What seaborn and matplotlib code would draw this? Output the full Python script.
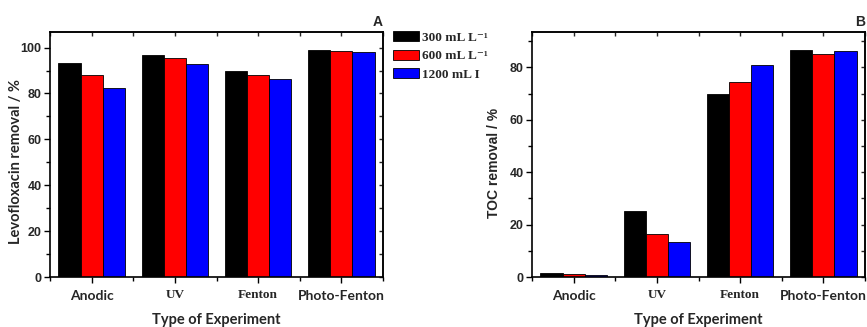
import matplotlib
matplotlib.use("Agg")
import matplotlib.pyplot as plt
import seaborn as sns
import pandas as pd
from matplotlib.ticker import MultipleLocator
from matplotlib.patches import Patch

categories = ["Anodic", "UV", "Fenton", "Photo-Fenton"]
series = ["300 mL L⁻¹", "600 mL L⁻¹", "1200 mL I"]
levo_300 = [93.5, 96.6, 89.9, 98.8]
levo_600 = [88.0, 95.3, 88.2, 98.5]
levo_1200 = [82.6, 92.8, 86.4, 98.2]
toc_300 = [1.4, 25.2, 70.0, 86.6]
toc_600 = [1.2, 16.3, 74.4, 85.1]
toc_1200 = [0.9, 13.2, 81.0, 86.1]
colors = ["#000000", "#ff0000", "#0000ff"]

def long_df(vals):
    rows = []
    for s, v in zip(series, vals):
        for c, x in zip(categories, v):
            rows.append({"cat": c, "series": s, "value": x})
    return pd.DataFrame(rows)

df_levo = long_df([levo_300, levo_600, levo_1200])
df_toc = long_df([toc_300, toc_600, toc_1200])

sns.set_theme(style="white")
plt.rcParams["font.family"] = ["Lato", "DejaVu Sans"]

fig = plt.figure(figsize=(8.67, 3.27), dpi=100)
W, H = 867, 327
ax1 = fig.add_axes([50 / W, 1 - 277 / H, 333 / W, 245 / H])
ax2 = fig.add_axes([532 / W, 1 - 277 / H, 333 / W, 245 / H])

sans_fonts = {"Anodic": "Lato", "Photo-Fenton": "Lato", "UV": "Liberation Serif", "Fenton": "Liberation Serif"}

def style(ax, df, ylim, ylabel, letter, ylabel_family, ylabel_size, ylabel_xy):
    sns.barplot(data=df, x="cat", y="value", hue="series", order=categories,
                hue_order=series, palette=colors, saturation=1, width=0.8,
                edgecolor="black", linewidth=0.6, ax=ax, legend=False)
    ax.set_xlim(-0.5, 3.5)
    ax.set_ylim(*ylim)
    for sp in ax.spines.values():
        sp.set_visible(True)
        sp.set_color("black")
        sp.set_linewidth(1.2)
    ax.yaxis.set_major_locator(MultipleLocator(20))
    ax.yaxis.set_minor_locator(MultipleLocator(10))
    ax.xaxis.set_minor_locator(MultipleLocator(0.5))
    ax.tick_params(axis="both", which="both", direction="out", color="black",
                   bottom=True, left=True, top=False, right=False)
    ax.tick_params(which="major", length=4, width=1)
    ax.tick_params(which="minor", length=3, width=1)
    ax.tick_params(axis="y", labelsize=9, pad=2)
    for lab in ax.get_yticklabels():
        lab.set_fontfamily("Liberation Sans")
        lab.set_fontweight("bold")
    ax.set_xticks(range(len(categories)))
    ax.set_xticklabels(categories)
    ax.tick_params(axis="x", pad=5)
    for lab in ax.get_xticklabels():
        t = lab.get_text()
        lab.set_fontfamily(sans_fonts[t])
        lab.set_fontweight("bold")
        lab.set_fontsize(10 if sans_fonts[t] == "Lato" else 9.5)
    ax.set_xlabel("Type of Experiment", fontsize=10.5, fontweight="bold", labelpad=8)
    ax.set_ylabel(ylabel, fontsize=ylabel_size, fontweight="bold",
                  fontfamily=ylabel_family)
    ax.yaxis.set_label_coords(*ylabel_xy)
    ax.set_title(letter, loc="right", fontsize=10, fontweight="bold", pad=4,
                 fontfamily="Liberation Sans")
    sx = ax.secondary_xaxis("top")
    sx.set_xticks([i * 0.5 - 0.5 for i in range(9)])
    sx.tick_params(direction="in", length=3, width=1, labeltop=False)
    sx.spines["top"].set_linewidth(1.2)
    sy = ax.secondary_yaxis("right")
    sy.yaxis.set_major_locator(MultipleLocator(20))
    sy.yaxis.set_minor_locator(MultipleLocator(10))
    sy.tick_params(which="both", direction="in", length=3, width=1, labelright=False)
    sy.spines["right"].set_linewidth(1.2)

style(ax1, df_levo, (0, 106.8), "Levofloxacin removal / %", "A", "Lato", 10.5,
      ((23 - 50) / 333, 0.47))
style(ax2, df_toc, (0, 93.5), "TOC removal / %", "B", "Liberation Sans", 10,
      ((501 - 532) / 333, 0.465))

handles = [Patch(facecolor=c, edgecolor="black", linewidth=0.6) for c in colors]
fig.legend(handles, series, loc="upper left", bbox_to_anchor=(393 / W, 1 - 31 / H),
           frameon=False, prop={"family": ["Liberation Serif", "DejaVu Serif"], "weight": "bold", "size": 9.5},
           handlelength=2.0, handleheight=0.8, labelspacing=0.45, handletextpad=0.2,
           borderpad=0, borderaxespad=0)

fig.savefig("out.png", dpi=100)
